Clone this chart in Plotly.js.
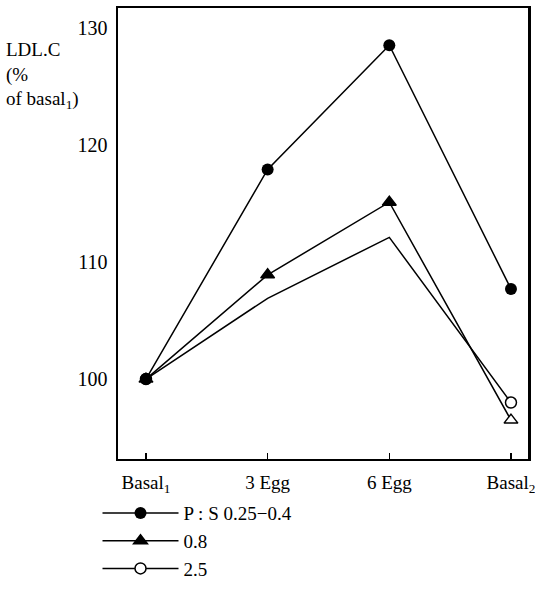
<!DOCTYPE html>
<html><head><meta charset="utf-8">
<script src="https://cdn.plot.ly/plotly-3.0.1.min.js"></script>
<style>html,body{margin:0;padding:0;background:#fff}#chart{width:535px;height:595px}</style>
</head><body><div id="chart"></div>
<script>
const categories = ['Basal<sub>1</sub>', '3 Egg', '6 Egg', 'Basal<sub>2</sub>'];
const xPos = [0, 1, 2, 3];
const seriesNames = ['P : S 0.25\u22120.4', '0.8', '2.5'];
const ps025 = [100, 117.9, 128.5, 107.7];
const ps08 = [100, 108.9, 115.1, 96.5];
const ps25 = [100, 106.9, 112.1, 98.0];
const yTicks = [100, 110, 120, 130];

const font = 'Liberation Serif';
const clear = 'rgba(0,0,0,0)';

const traces = [
  {
    x: xPos, y: ps25, name: seriesNames[2], mode: 'lines+markers', legendrank: 3,
    line: {color: '#000', width: 1.5},
    marker: {symbol: 'circle', size: 11, color: ['#fff', clear, clear, '#fff'],
             line: {color: ['#000', clear, clear, '#000'], width: 1.5}}
  },
  {
    x: xPos, y: ps08, name: seriesNames[1], mode: 'lines+markers', legendrank: 2,
    line: {color: '#000', width: 1.5},
    marker: {symbol: 'triangle-up', size: 12, color: ['#000', '#000', '#000', '#fff'],
             line: {color: '#000', width: 1.5}}
  },
  {
    x: xPos, y: ps025, name: seriesNames[0], mode: 'lines+markers', legendrank: 1,
    line: {color: '#000', width: 1.5},
    marker: {symbol: 'circle', size: 12, color: '#000'}
  }
];

const layout = {
  width: 535, height: 595,
  margin: {l: 118, r: 7, t: 8, b: 130},
  paper_bgcolor: '#fff', plot_bgcolor: '#fff',
  font: {family: font, color: '#000', size: 19},
  showlegend: true,
  legend: {x: -0.05, y: -0.078, xanchor: 'left', yanchor: 'top', bgcolor: clear,
           font: {family: font, size: 19}, tracegroupgap: 0, itemwidth: 76},
  xaxis: {
    range: [-0.23, 3.14], tickmode: 'array', tickvals: xPos, ticktext: categories,
    showgrid: false, zeroline: false, showline: true, mirror: true,
    linecolor: '#000', linewidth: 2, ticks: 'inside', ticklen: 6, tickwidth: 1.5,
    tickcolor: '#000', ticklabelstandoff: 5, ticklabeloverflow: 'allow',
    tickfont: {family: font, size: 19}
  },
  yaxis: {
    range: [93.18, 131.68], tickmode: 'array', tickvals: yTicks,
    showgrid: false, zeroline: false, showline: true, mirror: true,
    linecolor: '#000', linewidth: 2.5, ticks: '', ticklabelstandoff: 4,
    tickfont: {family: font, size: 20}
  },
  annotations: [{
    xref: 'paper', yref: 'paper', x: -0.277, y: 0.935, xanchor: 'left', yanchor: 'top',
    align: 'left', showarrow: false,
    text: 'LDL.C<br>(%<br>of basal<sub>1</sub>)',
    font: {family: font, size: 19, color: '#000'}
  }]
};

Plotly.newPlot('chart', traces, layout, {displayModeBar: false, staticPlot: true});
</script></body></html>
